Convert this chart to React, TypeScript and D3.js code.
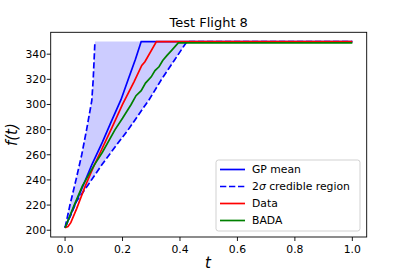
import * as d3 from 'd3';
import React from 'react';

// values: [t, f(t)]
const gpMean: [number, number][] = [
  [0, 202], [0.03, 218], [0.06, 234], [0.093, 252], [0.13, 270], [0.16, 286],
  [0.195, 304], [0.22, 320], [0.245, 336], [0.265, 350], [1.0, 350]
];
const dataSeries: [number, number][] = [
  [0, 202], [0.01, 203], [0.02, 206], [0.04, 217], [0.07, 235], [0.1, 251],
  [0.125, 263], [0.162, 281], [0.2, 300], [0.22, 309], [0.24, 318], [0.267, 331],
  [0.278, 334], [0.318, 350], [1.0, 350]
];
const bada: [number, number][] = [
  [0, 202], [0.03, 219], [0.06, 235], [0.102, 252], [0.13, 262], [0.174, 280],
  [0.2, 289], [0.23, 300], [0.247, 307], [0.265, 311], [0.28, 317], [0.3, 322],
  [0.313, 327], [0.327, 330], [0.34, 335], [0.355, 339], [0.371, 343], [0.394, 349],
  [1.0, 349]
];
const upperBand: [number, number][] = [
  [0, 202], [0.017, 220], [0.038, 240], [0.058, 260], [0.075, 280], [0.093, 303],
  [0.098, 320], [0.102, 340], [0.104, 350]
];
const upperPlateau: [number, number][] = [[1.0, 350]];
const lowerBand: [number, number][] = [
  [0, 202], [0.02, 212], [0.04, 223], [0.08, 236], [0.128, 252], [0.17, 265],
  [0.22, 280], [0.293, 304], [0.336, 320], [0.38, 335], [0.424, 350], [1.0, 350]
];

const xTicks = [0, 0.2, 0.4, 0.6, 0.8, 1.0];
const yTicks = [200, 220, 240, 260, 280, 300, 320, 340];

const legendItems = [
  { label: 'GP mean', color: 'blue', dash: null },
  { label: 'sigma', color: 'blue', dash: '6.3,2.7' },
  { label: 'Data', color: 'red', dash: null },
  { label: 'BADA', color: 'green', dash: null }
];

const W = 407;
const H = 271;
const left = 50.7, right = 366.7, top = 32.3, bottom = 237;
const font = 'DejaVu Sans, sans-serif';

export default function App() {
  const x = d3.scaleLinear().domain([-0.05, 1.05]).range([left, right]);
  const y = d3.scaleLinear().domain([194.6, 357.4]).range([bottom, top]);
  const line = d3.line<[number, number]>().x(d => x(d[0])).y(d => y(d[1]));
  const band = line([...upperBand, ...upperPlateau, ...lowerBand.slice().reverse()]) + 'Z';
  const lw = 1.7;

  return (
    <svg width={W} height={H} style={{ position: 'absolute', left: 0, top: 0, background: 'white' }}
      fontFamily={font}>
      <defs>
        <clipPath id="plot">
          <rect x={left} y={top} width={right - left} height={bottom - top} />
        </clipPath>
      </defs>
      <text x={(left + right) / 2} y={26.5} textAnchor="middle" fontSize={13}>Test Flight 8</text>

      <g clipPath="url(#plot)">
        <path d={band} fill="blue" fillOpacity={0.2} stroke="none" />
        <path d={line(gpMean)!} fill="none" stroke="blue" strokeWidth={lw} />
        <path d={line(upperBand)!} fill="none" stroke="blue" strokeWidth={lw} strokeDasharray="6.3,2.7" />
        <path d={line(lowerBand)!} fill="none" stroke="blue" strokeWidth={lw} strokeDasharray="6.3,2.7" />
        <path d={line(dataSeries)!} fill="none" stroke="red" strokeWidth={lw} />
        <path d={line(bada)!} fill="none" stroke="green" strokeWidth={lw} />
      </g>

      <rect x={left} y={top} width={right - left} height={bottom - top} fill="none" stroke="black" strokeWidth={0.9} />

      {xTicks.map(t => (
        <g key={'x' + t}>
          <line x1={x(t)} x2={x(t)} y1={bottom} y2={bottom + 4} stroke="black" strokeWidth={0.9} />
          <text x={x(t)} y={252.5} textAnchor="middle" fontSize={10.8}>{t.toFixed(1)}</text>
        </g>
      ))}
      {yTicks.map(v => (
        <g key={'y' + v}>
          <line x1={left - 4} x2={left} y1={y(v)} y2={y(v)} stroke="black" strokeWidth={0.9} />
          <text x={46} y={y(v)} dy="0.36em" textAnchor="end" fontSize={10.8}>{v}</text>
        </g>
      ))}

      <text x={208} y={268} textAnchor="middle" fontSize={15} fontStyle="italic">t</text>
      <text transform={`translate(17,${(top + bottom) / 2}) rotate(-90)`} textAnchor="middle" fontSize={15}
        fontStyle="italic">f(t)</text>

      <rect x={216} y={160} width={144} height={71} rx={2.5} fill="white" fillOpacity={0.8} stroke="#cccccc" strokeWidth={0.9} />
      {legendItems.map((item, i) => {
        const ly = 169.5 + i * 17;
        return (
          <g key={item.label}>
            <line x1={220} x2={245} y1={ly} y2={ly} stroke={item.color} strokeWidth={lw}
              strokeDasharray={item.dash ?? undefined} />
            <text x={252} y={ly} dy="0.36em" fontSize={10.8}>
              {item.label === 'sigma'
                ? <>2<tspan fontStyle="italic">σ</tspan> credible region</>
                : item.label}
            </text>
          </g>
        );
      })}
    </svg>
  );
}
